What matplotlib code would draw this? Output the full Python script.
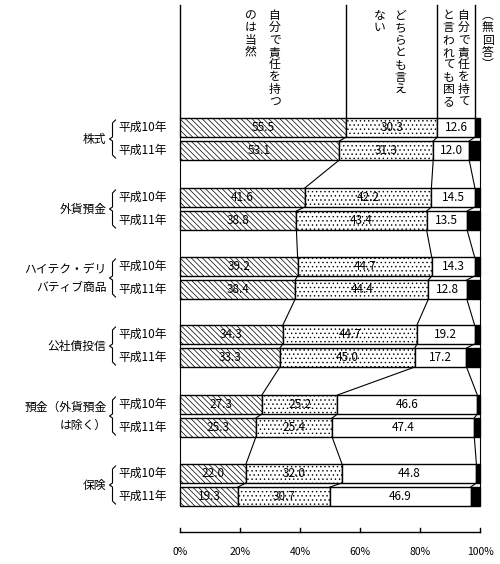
import matplotlib
matplotlib.use("Agg")
import matplotlib.pyplot as plt

plt.rcParams['font.family'] = ['Noto Sans CJK JP', 'DejaVu Sans']
plt.rcParams['hatch.linewidth'] = 0.5

categories = ['株式', '外貨預金', 'ハイテク・デリ\nバティブ商品', '公社債投信', '預金（外貨預金\nは除く）', '保険']
years = ['平成10年', '平成11年']
own_resp = [[55.5, 53.1], [41.6, 38.8], [39.2, 38.4], [34.3, 33.3], [27.3, 25.3], [22.0, 19.3]]
neither = [[30.3, 31.3], [42.2, 43.4], [44.7, 44.4], [44.7, 45.0], [25.2, 25.4], [32.0, 30.7]]
trouble = [[12.6, 12.0], [14.5, 13.5], [14.3, 12.8], [19.2, 17.2], [46.6, 47.4], [44.8, 46.9]]
headers = [['自分で責任を持つ', 'のは当然'], ['どちらとも言え', 'ない'],
           ['自分で責任を持て', 'と言われても困る'], ['︵無回答︶']]
ticks = [0, 20, 40, 60, 80, 100]

fig = plt.figure(figsize=(5, 5.64), dpi=100)
ax = fig.add_axes([0, 0, 1, 1])
ax.set_xlim(-60, 320 / 3)
ax.set_ylim(564, 0)
ax.axis('off')

group_top = [118, 188, 257, 325, 395, 464]
bh = 19
styles = [dict(facecolor='white', hatch='\\\\\\\\\\\\'), dict(facecolor='white', hatch='....'),
          dict(facecolor='white'), dict(facecolor='black')]

bars = []
for g, cat in enumerate(categories):
    for k in range(2):
        y0 = group_top[g] + k * 23
        vals = [own_resp[g][k], neither[g][k], trouble[g][k]]
        vals.append(100 - sum(vals))
        left = 0
        bounds = [0]
        for i, v in enumerate(vals):
            ax.barh(y0 + bh / 2, v, left=left, height=bh, edgecolor='black', linewidth=1, **styles[i])
            if i < 3:
                ax.text(left + v / 2, y0 + bh / 2, f'{v:.1f}', ha='center', va='center', fontsize=8.5,
                        bbox=dict(facecolor='white', edgecolor='none', pad=0) if i == 2 else None)
            left += v
            bounds.append(left)
        bars.append((y0, bounds))
        ax.text(-20.5, y0 + bh / 2, years[k], ha='left', va='center', fontsize=8.5)
    # brace
    yt, yb = group_top[g] + 2, group_top[g] + 23 + bh - 2
    ym = (yt + yb) / 2
    ax.plot([-21.5, -22.5, -22.5, -23.5, -22.5, -22.5, -21.5],
            [yt, yt + 3, ym - 2, ym, ym + 2, yb - 3, yb], color='black', lw=0.8)
    ax.text(-24.5, ym, cat, ha='right', va='center', fontsize=8.5, linespacing=1.5)

# connecting lines between bars
for (y0, b0), (y1, b1) in zip(bars[:-1], bars[1:]):
    for j in range(5):
        ax.plot([b0[j], b1[j]], [y0 + bh, y1], color='black', lw=0.8)

# header lines up to the top
y0, b0 = bars[0]
for j in range(4):
    ax.plot([b0[j], b0[j]], [5, y0], color='black', lw=1)

# header text (vertical)
hx = [[31.5, 23.5], [73.5, 66.5], [94.5, 89.5], [102.5]]
for cols, xs in zip(headers, hx):
    for txt, x in zip(cols, xs):
        ax.text(x, 9, '\n'.join(txt), ha='center', va='top', fontsize=8.5, linespacing=0.93)

# x axis
ax.plot([0, 100], [532, 532], color='black', lw=1)
for t in ticks:
    ax.plot([t, t], [532, 528], color='black', lw=1)
    ax.text(t, 552, f'{t}%', ha='center', va='center', fontsize=7.5)

fig.savefig('out.png', dpi=100)
